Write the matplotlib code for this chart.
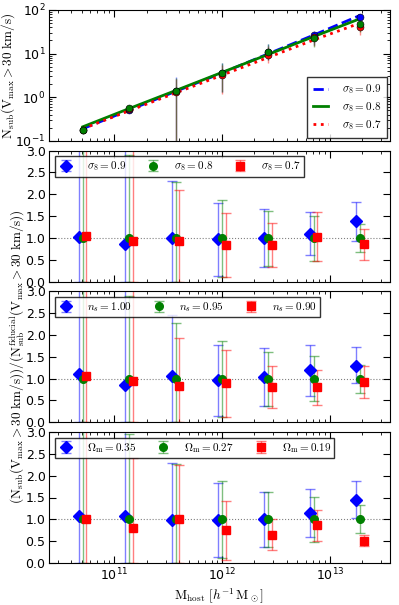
import numpy as np
import matplotlib
matplotlib.use('Agg')
import matplotlib.pyplot as plt
from matplotlib.colors import to_rgba

# host mass bins (log10 M_host), same for all panels
log_mhost = [10.71, 11.14, 11.57, 12.00, 12.43, 12.85, 13.28]

# top panel: N_sub(Vmax > 30 km/s) points and model lines
nsub_labels = [r'$\sigma_8 = 0.9$', r'$\sigma_8 = 0.8$', r'$\sigma_8 = 0.7$']
nsub_pts = {
    'blue': [0.18, 0.52, 1.40, 3.5, 11.0, 26.0, 70.0],
    'red': [0.18, 0.54, 1.35, 3.2, 9.5, 24.0, 40.0],
    'green': [0.18, 0.56, 1.40, 3.6, 11.0, 23.0, 47.0],
}
nsub_lo = {
    'blue': [0.16, 0.47, 0.01, 1.3, 7.0, 16.0, 60.0],
    'red': [0.16, 0.49, 0.01, 1.2, 6.0, 15.0, 27.0],
    'green': [0.16, 0.50, 0.01, 1.3, 7.0, 14.0, 32.0],
}
nsub_hi = {
    'blue': [0.20, 0.58, 2.9, 6.0, 17.0, 33.0, 80.0],
    'red': [0.20, 0.60, 2.6, 5.5, 15.0, 31.0, 52.0],
    'green': [0.20, 0.62, 2.8, 6.2, 17.0, 30.0, 58.0],
}
model_blue = [0.19, 0.51, 1.36, 3.6, 9.9, 26.5, 75.0]
model_green = [0.21, 0.55, 1.42, 3.7, 9.6, 24.5, 63.0]
model_red = [0.19, 0.49, 1.25, 3.2, 8.2, 20.5, 50.0]

# ratio panels: values, lower bounds, upper bounds for blue, green, red
sig8_labels = [r'$\sigma_8 = 0.9$', r'$\sigma_8 = 0.8$', r'$\sigma_8 = 0.7$']
sig8_val = [[1.02, 0.87, 0.99, 0.97, 1.00, 1.10, 1.38],
            [1.00, 1.00, 1.00, 1.00, 1.00, 1.00, 1.00],
            [1.05, 0.94, 0.92, 0.83, 0.84, 1.03, 0.85]]
sig8_lo = [[0.0, 0.0, 0.0, 0.13, 0.33, 0.60, 0.93],
           [0.0, 0.0, 0.0, 0.10, 0.36, 0.47, 0.68],
           [0.0, 0.0, 0.0, 0.10, 0.33, 0.47, 0.50]]
sig8_hi = [[3.5, 3.5, 2.30, 1.79, 1.67, 1.60, 1.83],
           [3.5, 2.90, 2.27, 1.87, 1.62, 1.51, 1.32],
           [3.5, 3.5, 2.09, 1.57, 1.35, 1.60, 1.20]]

ns_labels = [r'$n_s = 1.00$', r'$n_s = 0.95$', r'$n_s = 0.90$']
ns_val = [[1.11, 0.85, 1.07, 0.96, 1.04, 1.19, 1.30],
          [1.00, 1.00, 1.00, 1.00, 1.00, 1.00, 1.00],
          [1.07, 0.95, 0.83, 0.89, 0.80, 0.80, 0.92]]
ns_lo = [[0.0, 0.0, 0.0, 0.15, 0.38, 0.60, 0.89],
         [0.0, 0.0, 0.0, 0.12, 0.37, 0.48, 0.68],
         [0.0, 0.0, 0.0, 0.12, 0.32, 0.40, 0.55]]
ns_hi = [[3.5, 3.5, 2.45, 1.76, 1.70, 1.78, 1.73],
         [3.5, 2.90, 2.27, 1.87, 1.62, 1.52, 1.31],
         [3.5, 3.5, 1.92, 1.66, 1.28, 1.20, 1.30]]

om_labels = [r'$\Omega_\mathrm{m} = 0.35$', r'$\Omega_\mathrm{m} = 0.27$', r'$\Omega_\mathrm{m} = 0.19$']
om_val = [[1.08, 1.08, 0.99, 0.98, 1.01, 1.15, 1.45],
          [1.00, 1.00, 1.00, 1.00, 1.00, 1.00, 1.00],
          [1.01, 0.80, 1.00, 0.76, 0.64, 0.87, 0.50]]
om_lo = [[0.0, 0.0, 0.0, 0.13, 0.37, 0.60, 1.04],
         [0.0, 0.0, 0.0, 0.12, 0.36, 0.48, 0.68],
         [0.0, 0.0, 0.0, 0.08, 0.29, 0.50, 0.38]]
om_hi = [[3.5, 3.5, 2.28, 1.83, 1.63, 1.69, 1.87],
         [3.5, 2.95, 2.27, 1.87, 1.62, 1.52, 1.32],
         [3.5, 2.40, 2.24, 1.42, 1.00, 1.22, 0.63]]

mhost = 10 ** np.array(log_mhost)
colors = ['blue', 'green', 'red']
markers = ['D', 'o', 's']
msizes = [6, 5.5, 6]
shifts = [0.92, 1.0, 1.08]

fig = plt.figure(figsize=(3.99, 6.05), dpi=100)
left, width = 49 / 399, 341 / 399
h = 131 / 605
gap = 9.7 / 605
bottom0 = 1 - 563 / 605


def style_axis(ax):
    ax.tick_params(which='both', direction='in', top=True, right=True,
                   labelsize=9, pad=2.5)
    ax.tick_params(which='major', length=5)
    ax.tick_params(which='minor', length=2.5)


# top panel
ax0 = fig.add_axes([left, bottom0 + 3 * (h + gap), width, h])
for c in ['blue', 'red', 'green']:
    v = np.array(nsub_pts[c])
    err = [v - np.array(nsub_lo[c]), np.array(nsub_hi[c]) - v]
    ax0.errorbar(mhost, v, yerr=err, fmt='o', color=c, ecolor=to_rgba(c, 0.45),
                 ms=5, mec='k', mew=0.4, elinewidth=1.0, capsize=0, zorder=3)
l1, = ax0.plot(mhost, model_blue, '--', color='blue', lw=2, label=nsub_labels[0])
l2, = ax0.plot(mhost, model_green, '-', color='green', lw=2, label=nsub_labels[1])
l3, = ax0.plot(mhost, model_red, ':', color='red', lw=2, label=nsub_labels[2])
ax0.set_xscale('log')
ax0.set_yscale('log')
ax0.set_xlim(2.5e10, 3.6e13)
ax0.set_ylim(0.1, 100)
ax0.set_xticklabels([])
style_axis(ax0)
ax0.set_ylabel(r'$\mathrm{N_{sub}(V_{max} > 30\ km/s)}$', fontsize=9.5,
               math_fontfamily='cm')
ax0.yaxis.set_label_coords(-0.095, 0.5)
leg = ax0.legend(handles=[l1, l2, l3], loc='lower right', fontsize=8,
                 fancybox=False, edgecolor='k', handlelength=1.4,
                 borderpad=0.5, labelspacing=0.35, handletextpad=1.2,
                 borderaxespad=0.3)
for t in leg.get_texts():
    t.set_math_fontfamily('cm')

panels = [(sig8_labels, sig8_val, sig8_lo, sig8_hi),
          (ns_labels, ns_val, ns_lo, ns_hi),
          (om_labels, om_val, om_lo, om_hi)]

for i, (labels, vals, los, his) in enumerate(panels):
    ax = fig.add_axes([left, bottom0 + (2 - i) * (h + gap), width, h])
    ax.axhline(1.0, color='gray', ls=':', lw=0.8, zorder=0)
    for j in range(3):
        v = np.array(vals[j])
        err = [v - np.array(los[j]), np.array(his[j]) - v]
        ax.errorbar(mhost * shifts[j], v, yerr=err, fmt=markers[j], color=colors[j],
                    ecolor=to_rgba(colors[j], 0.5), ms=msizes[j], mec=colors[j],
                    elinewidth=1, capsize=3.5, capthick=1, label=labels[j])
    ax.set_xscale('log')
    ax.set_xlim(2.5e10, 3.6e13)
    ax.set_ylim(0, 3)
    ax.set_yticks(np.arange(0, 3.01, 0.5))
    style_axis(ax)
    if i < 2:
        ax.set_xticklabels([])
    else:
        ax.set_xlabel(r'$\mathrm{M_{host}}\ [h^{-1}\,\mathrm{M_\odot}]$', fontsize=9.5,
                      math_fontfamily='cm', labelpad=2)
    leg = ax.legend(loc='upper left', ncol=3, fontsize=8, fancybox=False,
                    edgecolor='k', handlelength=1.5, columnspacing=1.7,
                    borderpad=0.3, handletextpad=1.1)
    for t in leg.get_texts():
        t.set_math_fontfamily('cm')

fig.text(17 / 399, 1 - 357 / 605,
         r'$\mathrm{(N_{sub}(V_{max} > 30\ km/s))/(N_{sub}^{fiducial}(V_{max} > 30\ km/s))}$',
         rotation=90, ha='center', va='center', fontsize=9.5, math_fontfamily='cm')

fig.savefig('out.png', dpi=100)
